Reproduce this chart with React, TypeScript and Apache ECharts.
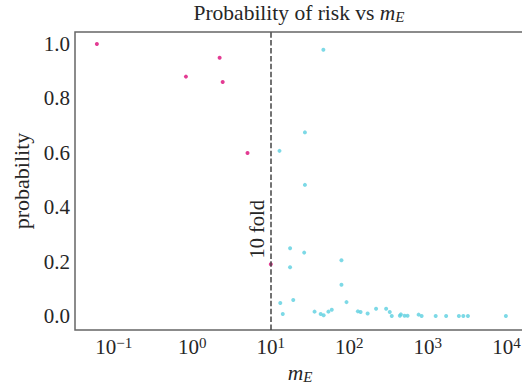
import React, { useEffect, useRef } from "react";
import * as echarts from "echarts";

const highX = [0.061, 0.83, 2.23, 2.44, 5.05, 10];
const highY = [1.0, 0.88, 0.949, 0.86, 0.599, 0.19];
const lowX = [46.7, 27.2, 12.9, 27.2, 17.6, 26.6, 79.4, 17.6, 79.4, 13.2, 19.3, 92, 14.2, 36.1, 43.2, 47.1, 54.1, 59.7, 128.5, 139, 171, 219, 294, 327, 347, 440, 453, 505, 551, 763, 833, 1259, 1710, 2483, 2826, 3236, 9860];
const lowY = [0.979, 0.675, 0.607, 0.482, 0.249, 0.233, 0.205, 0.179, 0.115, 0.048, 0.059, 0.051, 0.007, 0.016, 0.007, 0.003, 0.016, 0.023, 0.017, 0.015, 0.009, 0.027, 0.027, 0.015, 0.0, 0.001, 0.006, 0.001, 0.001, 0.005, 0.0, 0.0, 0.0, 0.0, 0.0, 0.0, 0.0];
const xTicks = [0.1, 1, 10, 100, 1000, 10000];
const yTicks = [0, 0.2, 0.4, 0.6, 0.8, 1.0];
const thresholdX = 10;
const thresholdLabelY = 0.2;

const FONT = "'Liberation Serif', 'DejaVu Serif', serif";
const TXT = "#262626";

export default function App() {
  const ref = useRef<HTMLDivElement>(null);
  useEffect(() => {
    const chart = echarts.init(ref.current!, null, { renderer: "svg" });
    const toPairs = (xs: number[], ys: number[]) => xs.map((x, i) => [x, ys[i]]);
    chart.setOption({
      animation: false,
      backgroundColor: "#ffffff",
      textStyle: { fontFamily: FONT },
      title: {
        text: "Probability of risk vs {m|m}{e|E}",
        left: 299,
        textAlign: "center",
        top: 0,
        padding: [2, 0, 0, 0],
        textStyle: {
          fontFamily: FONT,
          fontSize: 21.5,
          fontWeight: "normal",
          color: TXT,
          rich: {
            m: { fontFamily: FONT, fontSize: 21.5, fontStyle: "italic", color: TXT },
            e: { fontFamily: FONT, fontSize: 15, fontStyle: "italic", color: TXT, verticalAlign: "bottom", padding: [7, 0, 0, 0] },
          },
        },
      },
      grid: {
        left: 75,
        top: 32,
        right: -3,
        bottom: 54,
        show: true,
        borderColor: "#666666",
        borderWidth: 1.5,
        containLabel: false,
        outerBoundsMode: "none",
      },
      xAxis: {
        type: "log",
        logBase: 10,
        min: 0.0321,
        max: 17260,
        name: "{m|m}{e|E}",
        nameLocation: "middle",
        nameGap: 20,
        nameTextStyle: {
          rich: {
            m: { fontFamily: FONT, fontSize: 21.5, fontStyle: "italic", color: TXT },
            e: { fontFamily: FONT, fontSize: 15, fontStyle: "italic", color: TXT, verticalAlign: "bottom", padding: [7, 0, 0, 0] },
          },
        },
        axisLine: { show: false },
        axisTick: { show: false },
        splitLine: { show: false },
        axisLabel: {
          customValues: xTicks,
          margin: 5,
          formatter: (v: number) => {
            const e = Math.round(Math.log10(v));
            return `{b|10}{s|${e < 0 ? "\u2212" + -e : e}}`;
          },
          rich: {
            b: { fontFamily: FONT, fontSize: 21, color: TXT, lineHeight: 24 },
            s: { fontFamily: FONT, fontSize: 15, color: TXT, verticalAlign: "top", lineHeight: 13 },
          },
        },
      },
      yAxis: {
        type: "value",
        min: -0.0515,
        max: 1.044,
        name: "probability",
        nameLocation: "middle",
        nameGap: 36,
        nameTextStyle: { fontFamily: FONT, fontSize: 22, color: TXT },
        axisLine: { show: false },
        axisTick: { show: false },
        splitLine: { show: false },
        axisLabel: {
          customValues: yTicks,
          margin: 5,
          fontFamily: FONT,
          fontSize: 21,
          color: TXT,
          formatter: (v: number) => v.toFixed(1),
        },
      },
      series: [
        {
          type: "scatter",
          data: toPairs(highX, highY),
          symbolSize: 4,
          itemStyle: { color: "#dc0a78" },
          markLine: {
            silent: true,
            symbol: "none",
            data: [
              {
                xAxis: thresholdX,
                lineStyle: { type: [5.5, 2.4], color: "#444444", width: 1.5 },
                label: { show: false },
              },
              [
                {
                  coord: [thresholdX, thresholdLabelY],
                  lineStyle: { color: "rgba(0,0,0,0)", width: 0 },
                  label: {
                    show: true,
                    position: "insideStartTop",
                    formatter: "10 fold",
                    fontFamily: FONT,
                    fontSize: 20.5,
                    color: TXT,
                    distance: 3,
                  },
                },
                { coord: [thresholdX, 1.0] },
              ],
            ],
          },
        },
        {
          type: "scatter",
          data: toPairs(lowX, lowY),
          symbolSize: 4,
          itemStyle: { color: "#5ccfe0" },
        },
      ],
    });
    return () => chart.dispose();
  }, []);
  return (
    <div
      ref={ref}
      style={{ position: "fixed", left: 0, top: 0, width: 522, height: 384, background: "#fff" }}
    />
  );
}
